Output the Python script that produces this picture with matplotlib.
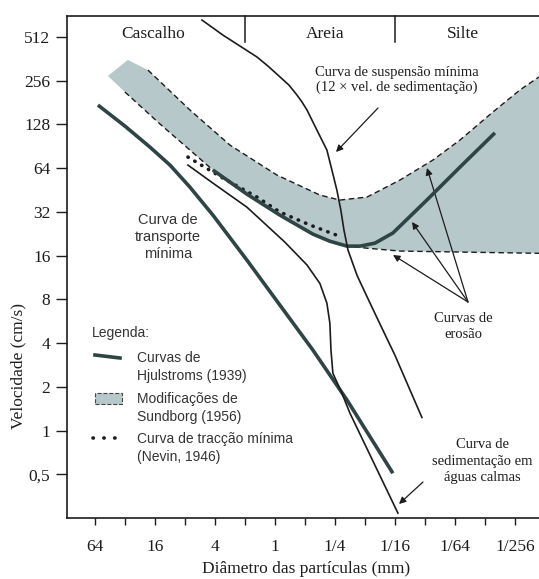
import matplotlib
matplotlib.use("Agg")
import matplotlib.pyplot as plt
from matplotlib.patches import Rectangle
from matplotlib.lines import Line2D
from matplotlib.transforms import blended_transform_factory

plt.rcParams['font.family'] = ['Liberation Serif', 'DejaVu Serif']
SANS = ['Liberation Sans', 'DejaVu Sans']

# diameters in mm, velocities in cm/s
susp_d = [5.40, 3.33, 1.516, 1.175, 0.891, 0.724, 0.601, 0.536, 0.477, 0.379, 0.301, 0.268, 0.239, 0.218,
          0.203, 0.185, 0.150, 0.111, 0.0844, 0.0625, 0.0335]
susp_v = [670, 528, 373, 323, 272, 239, 204, 183, 161, 117, 85.3, 62.1, 45.2, 32.9,
          24.0, 17.5, 11.7, 7.53, 5.07, 3.30, 1.23]

sed_d = [7.46, 4.19, 1.91, 0.794, 0.477, 0.354, 0.301, 0.281, 0.274, 0.262, 0.213, 0.177, 0.0583]
sed_v = [67.2, 50.5, 34.5, 19.8, 13.8, 10.3, 7.53, 5.48, 3.58, 2.48, 1.81, 1.32, 0.27]

transp_d = [59.7, 32, 17.96, 11.3, 7.13, 4.19, 1.91, 0.891, 0.416, 0.189, 0.0655]
transp_v = [174, 124.7, 89.4, 67.2, 47.4, 30.4, 14.9, 7.30, 3.58, 1.62, 0.508]

eros_d = [4.19, 1.91, 0.891, 0.416, 0.281, 0.189, 0.140, 0.0992, 0.0655, 0.0299, 0.0139, 0.0062]
eros_v = [62.1, 42.4, 30.4, 22.5, 20.1, 18.6, 18.6, 19.5, 22.9, 38.6, 65.1, 112]

band_up_d = [29.9, 18.8, 7.13, 2.83, 0.955, 0.354, 0.223, 0.119, 0.0557, 0.026, 0.0139, 0.00649, 0.00348, 0.00224]
band_up_v = [356, 303, 161, 92.3, 57.4, 41.8, 38.6, 40.5, 53.0, 72.8, 100, 156, 221, 272]

band_lo_d = [47.4, 32, 14.25, 7.13, 4.19, 1.91, 0.891, 0.416, 0.281, 0.189, 0.119, 0.0557, 0.0118, 0.00224]
band_lo_v = [276, 214, 129, 85.3, 62.1, 42.4, 30.4, 22.5, 20.1, 18.6, 18.0, 17.2, 16.9, 16.6]

nevin_d = [7.46, 3.33, 1.516, 0.891, 0.445, 0.239]
nevin_v = [76.3, 54.7, 40.5, 31.9, 26.0, 22.1]

x_ticks = [2.0 ** k for k in range(6, -9, -1)]
x_labels = ['64', '', '16', '', '4', '', '1', '', '1/4', '', '1/16', '', '1/64', '', '1/256']
y_ticks = [0.5, 1, 2, 4, 8, 16, 32, 64, 128, 256, 512]
y_labels = ['0,5', '1', '2', '4', '8', '16', '32', '64', '128', '256', '512']
class_edges = [2, 1 / 16]

INK = '#1c1c1c'
THICK = '#2f4545'
BAND = '#b7c8ca'

W, H = 539, 579
fig = plt.figure(figsize=(W / 100, H / 100), dpi=100)
ax = fig.add_axes([67 / W, 1 - 518 / H, 1 - 67 / W, 502 / H])


def px(x, y):
    return (x / W, 1 - y / H)


ax.set_xscale('log', base=2)
ax.set_yscale('log', base=2)

# Sundborg band
ax.fill(band_up_d + band_lo_d[::-1], band_up_v + band_lo_v[::-1], color=BAND, lw=0, zorder=1)
ax.plot(band_up_d[1:], band_up_v[1:], color=INK, lw=1.0, ls=(0, (4, 2.5)), zorder=2)
ax.plot(band_lo_d[1:], band_lo_v[1:], color=INK, lw=1.0, ls=(0, (4, 2.5)), zorder=2)

ax.plot(nevin_d, nevin_v, color=INK, lw=2.6, ls=(0, (0.1, 2.1)), dash_capstyle='round', zorder=3)
ax.plot(eros_d, eros_v, color=THICK, lw=2.6, solid_capstyle='butt', solid_joinstyle='round', zorder=4)
ax.plot(transp_d, transp_v, color=THICK, lw=2.6, solid_capstyle='butt', solid_joinstyle='round', zorder=4)
ax.plot(susp_d, susp_v, color=INK, lw=1.2, solid_joinstyle='round', zorder=5)
ax.plot(sed_d, sed_v, color=INK, lw=1.2, solid_joinstyle='round', zorder=5)

ax.set_xlim(122, 0.00224)
ax.set_ylim(0.25, 714)
ax.minorticks_off()
ax.set_xticks(x_ticks, x_labels)
ax.set_yticks(y_ticks, y_labels)
ax.tick_params(axis='x', direction='out', length=5, width=1, pad=10, labelsize=12.5, colors=INK)
ax.tick_params(axis='y', direction='out', length=8, width=1, pad=4, labelsize=12.5, colors=INK)
ax.spines['right'].set_visible(False)
for s in ['top', 'left', 'bottom']:
    ax.spines[s].set_linewidth(1.2)
    ax.spines[s].set_color(INK)

# size classes header
trans = blended_transform_factory(ax.transData, ax.transAxes)
for e in class_edges:
    ax.plot([e, e], [1, 0.948], transform=trans, color=INK, lw=1.1, clip_on=False)
fig.text(*px(153, 34), 'Cascalho', ha='center', va='center', fontsize=12.5, color=INK)
fig.text(*px(325, 34), 'Areia', ha='center', va='center', fontsize=12.5, color=INK)
fig.text(*px(463, 34), 'Silte', ha='center', va='center', fontsize=12.5, color=INK)

fig.text(*px(18, 366), 'Velocidade (cm/s)', rotation=90, ha='center', va='center', fontsize=12.5, color=INK)
fig.text(*px(306, 569), 'Diâmetro das partículas (mm)', ha='center', va='center', fontsize=12.5, color=INK)

# annotations
arrow = dict(arrowstyle='-|>', color=INK, lw=0.9, mutation_scale=10, shrinkA=0, shrinkB=0)
fig.text(*px(397, 80), 'Curva de suspensão mínima\n(12 × vel. de sedimentação)', ha='center', va='center',
         fontsize=10.5, color=INK, linespacing=1.15)
ax.annotate('', xy=px(336, 152), xytext=px(378, 108), xycoords='figure fraction', arrowprops=arrow)

fig.text(*px(463, 327), 'Curvas de\nerosão', ha='center', va='center', fontsize=10.5, color=INK, linespacing=1.3)
for tip in [(427, 168), (412, 222), (393, 255)]:
    ax.annotate('', xy=px(*tip), xytext=px(468, 302), xycoords='figure fraction', arrowprops=arrow)

fig.text(*px(482, 461), 'Curva de\nsedimentação em\náguas calmas', ha='center', va='center',
         fontsize=10.5, color=INK, linespacing=1.3)
ax.annotate('', xy=px(399, 504), xytext=px(423, 482), xycoords='figure fraction', arrowprops=arrow)

fig.text(*px(168, 237), 'Curva de\ntransporte\nmínima', ha='center', va='center', fontsize=10.5,
         family=SANS, color='#333333', linespacing=1.25)

# legend
fig.text(*px(92, 333), 'Legenda:', ha='left', va='center', fontsize=10, family=SANS, color='#333333')
fig.add_artist(Line2D([95 / W, 120 / W], [1 - 355 / H, 1 - 358 / H], transform=fig.transFigure,
                      color=THICK, lw=2.6))
fig.text(*px(137, 367), 'Curvas de\nHjulstroms (1939)', ha='left', va='center', fontsize=10, family=SANS,
         color='#333333', linespacing=1.3)
fig.add_artist(Rectangle(px(95, 404), 27 / W, 11 / H, transform=fig.transFigure, facecolor=BAND,
                         edgecolor='#444444', ls='--', lw=0.8))
fig.text(*px(137, 408), 'Modificações de\nSundborg (1956)', ha='left', va='center', fontsize=10, family=SANS,
         color='#333333', linespacing=1.3)
fig.add_artist(Line2D([93 / W, 122 / W], [1 - 438 / H, 1 - 438 / H], transform=fig.transFigure,
                      color=INK, lw=2.6, ls=(0, (0.1, 2.9)), dash_capstyle='round'))
fig.text(*px(137, 448), 'Curva de tracção mínima\n(Nevin, 1946)', ha='left', va='center', fontsize=10,
         family=SANS, color='#333333', linespacing=1.3)

fig.savefig('out.png', dpi=100)
